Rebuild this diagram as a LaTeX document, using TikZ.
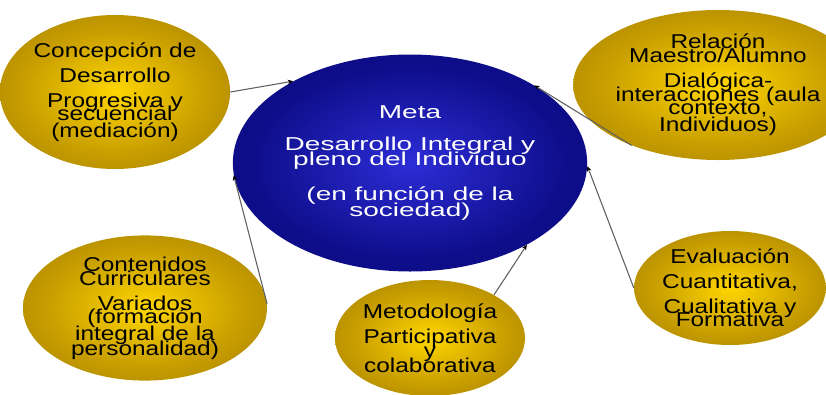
\documentclass[tikz,border=0pt]{standalone}
\usepackage{fontspec}
\newfontfamily\ovalfont{Liberation Sans}[FakeStretch=1.22]
\newfontfamily\metafont{Liberation Sans}[FakeStretch=1.5]
\usepackage{tikz}
\usetikzlibrary{shapes, arrows.meta, calc}

\definecolor{goldhi}{RGB}{255,214,0}
\definecolor{goldmid}{RGB}{200,158,0}
\definecolor{golddark}{RGB}{128,98,0}
\definecolor{bluehi}{RGB}{45,45,215}
\definecolor{bluemid}{RGB}{14,14,140}
\definecolor{bluedark}{RGB}{6,6,105}
\definecolor{linkgray}{RGB}{95,95,95}

\pgfdeclareradialshading{goldball}{\pgfpoint{0bp}{0bp}}{color(0bp)=(goldhi); color(20bp)=(goldmid); color(50bp)=(golddark); color(100bp)=(golddark)}
\pgfdeclareradialshading{blueball}{\pgfpoint{0bp}{0bp}}{color(0bp)=(bluehi); color(22bp)=(bluemid); color(50bp)=(bluedark); color(100bp)=(bluedark)}

\begin{document}
\begin{tikzpicture}[x=0.75pt, y=-0.75pt,
        oval/.style={ellipse, shading=goldball, inner sep=0pt, align=center, text=black, font=\ovalfont\fontsize{15}{18.75}\selectfont},
        goal/.style={ellipse, shading=blueball, inner sep=0pt, align=center, text=white, font=\metafont\fontsize{14}{18}\selectfont},
        link/.style={draw=linkgray, line width=0.8pt, -{Stealth[length=4pt, width=3.5pt, black]}}]
        \useasboundingbox (0,0) rectangle (826,394);

        \node [goal, minimum width=236.25pt, minimum height=162.75pt] (meta) at (410,163) { Meta\\[6pt] Desarrollo Integral y\\[-6.75pt] pleno del Individuo\\[8.25pt] (en función de la\\[-6pt] sociedad) };

        \node [oval, minimum width=154.5pt, minimum height=115.5pt] (concepcion) at (115,92) { Concepción de\\ Desarrollo\\ Progresiva y\\[-9pt] secuencial\\[-6pt] (mediación) };
        \node [oval, minimum width=162pt, minimum height=112.5pt] (relacion) at (718,85) { Relación\\[-8.25pt] Maestro/Alumno\\ Dialógica-\\[-8.25pt] interacciones (aula\\[-9pt] contexto,\\[-6pt] Individuos) };
        \node [oval, minimum width=183pt, minimum height=108pt] (contenidos) at (145,308) { Contenidos\\[-8.25pt] Curriculares\\ Variados\\[-9pt] (formación\\[-6pt] integral de la\\[-7.5pt] personalidad) };
        \node [oval, minimum width=139.5pt, minimum height=87pt] (metodologia) at (430,338) { Metodología\\ Participativa\\[-8.25pt] y\\[-7.5pt] colaborativa };
        \node [oval, minimum width=139.5pt, minimum height=85.5pt] (evaluacion) at (730,288) { Evaluación\\ Cuantitativa,\\ Cualitativa y\\[-9pt] Formativa };

        % links to the goal
        \draw [link] (concepcion.east) -- (meta.145.5);
        \draw [link] (relacion.215) -- (meta.32.8);
        \draw [link] (evaluacion.west) -- (meta.-1.8);
        \draw [link] (metodologia.34) -- (meta.-35.8);
        \draw [link] (contenidos.2) -- (meta.184.4);
\end{tikzpicture}
\end{document}
